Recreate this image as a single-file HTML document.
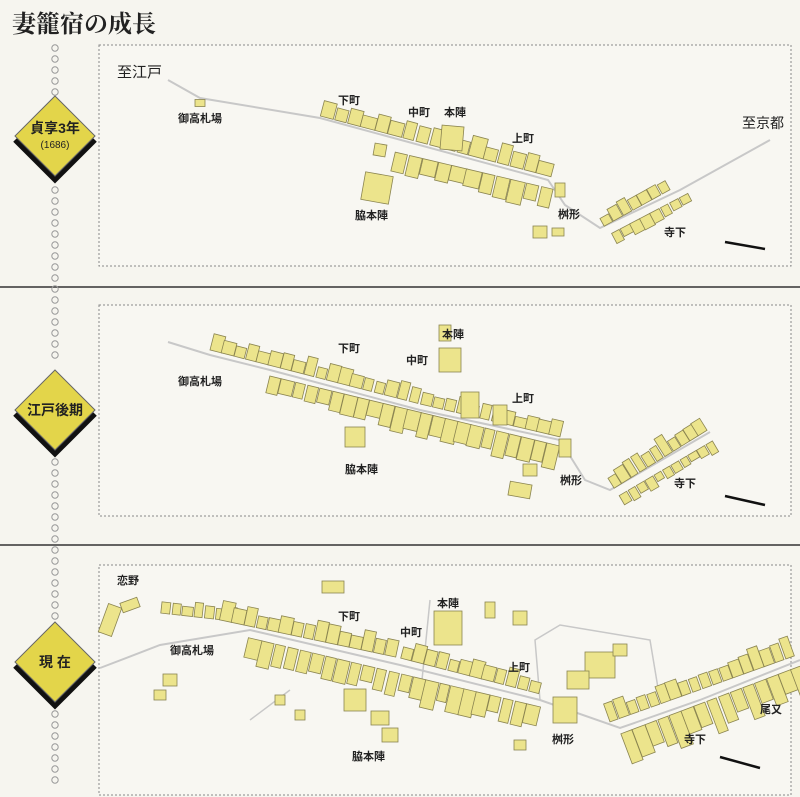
<!DOCTYPE html>
<html><head><meta charset="utf-8"><style>
html,body{margin:0;padding:0;background:#f6f5ef;}
body{width:800px;height:797px;overflow:hidden;position:relative;font-family:"Liberation Sans","Noto Sans CJK JP",sans-serif;}
svg{position:absolute;left:0;top:0}
</style></head><body>
<svg id="s" width="800" height="797" viewBox="0 0 800 797" font-family="'Liberation Sans','Noto Sans CJK JP',sans-serif">
<rect width="800" height="797" fill="#f6f5ef"/>
<text x="12" y="32" font-family="'Noto Serif CJK SC','Noto Sans CJK JP',serif" font-size="24" font-weight="bold" fill="#222">妻籠宿の成長</text>
<rect x="99" y="45" width="692" height="221" fill="#f8f7f2" stroke="#888" stroke-dasharray="2,2"/>
<rect x="99" y="305" width="692" height="211" fill="#f8f7f2" stroke="#888" stroke-dasharray="2,2"/>
<rect x="99" y="565" width="692" height="230" fill="#f8f7f2" stroke="#888" stroke-dasharray="2,2"/>
<line x1="0" y1="287" x2="800" y2="287" stroke="#333" stroke-width="1.5"/>
<line x1="0" y1="545" x2="800" y2="545" stroke="#333" stroke-width="1.5"/>
<g id="dots" fill="none" stroke="#999" stroke-width="1"></g>
<g>
<polyline points="15,140 55,180 95,140" fill="none" stroke="#111" stroke-width="5"/>
<polygon points="55,96 95,136 55,176 15,136" fill="#e3d54a" stroke="#666"/>
<text x="55" y="133" font-size="14" font-weight="bold" text-anchor="middle" fill="#222">貞享3年</text>
<text x="55" y="148" font-size="10" text-anchor="middle" fill="#222">(1686)</text>
</g>
<g>
<polyline points="15,414 55,454 95,414" fill="none" stroke="#111" stroke-width="5"/>
<polygon points="55,370 95,410 55,450 15,410" fill="#e3d54a" stroke="#666"/>
<text x="55" y="415" font-size="14" font-weight="bold" text-anchor="middle" fill="#222">江戸後期</text>
</g>
<g>
<polyline points="15,666 55,706 95,666" fill="none" stroke="#111" stroke-width="5"/>
<polygon points="55,622 95,662 55,702 15,662" fill="#e3d54a" stroke="#666"/>
<text x="55" y="667" font-size="14" font-weight="bold" text-anchor="middle" fill="#222">現 在</text>
</g>
<g id="roads" fill="none" stroke="#c8c8c8" stroke-width="2"></g>
<g id="bld" fill="#ece48c" stroke="#8a8450" stroke-width="0.8"></g>
<g font-size="11" font-weight="bold" fill="#222">
<text x="117" y="77" font-size="15" font-weight="normal">至江戸</text>
<text x="178" y="122">御高札場</text>
<text x="338" y="104">下町</text>
<text x="408" y="116">中町</text>
<text x="444" y="116">本陣</text>
<text x="512" y="142">上町</text>
<text x="742" y="128" font-size="14" font-weight="normal">至京都</text>
<text x="355" y="219">脇本陣</text>
<text x="558" y="218">桝形</text>
<text x="664" y="236">寺下</text>
<text x="178" y="385">御高札場</text>
<text x="338" y="352">下町</text>
<text x="406" y="364">中町</text>
<text x="442" y="338">本陣</text>
<text x="512" y="402">上町</text>
<text x="345" y="473">脇本陣</text>
<text x="560" y="484">桝形</text>
<text x="674" y="487">寺下</text>
<text x="117" y="584">恋野</text>
<text x="170" y="654">御高札場</text>
<text x="338" y="620">下町</text>
<text x="400" y="636">中町</text>
<text x="437" y="607">本陣</text>
<text x="508" y="671">上町</text>
<text x="352" y="760">脇本陣</text>
<text x="552" y="743">桝形</text>
<text x="684" y="743">寺下</text>
<text x="760" y="713">尾又</text>
</g>
<g stroke="#111" stroke-width="2.5">
<line x1="725" y1="242" x2="765" y2="249"/>
<line x1="725" y1="496" x2="765" y2="505"/>
<line x1="720" y1="757" x2="760" y2="768"/>
</g>
</svg>
<script>
var NS="http://www.w3.org/2000/svg";
var seed=7;function rnd(){seed=(seed*9301+49297)%233280;return seed/233280;}
var dots=document.getElementById('dots');
function dcol(y0,y1){for(var y=y0;y<=y1;y+=11){var c=document.createElementNS(NS,'circle');c.setAttribute('cx',55);c.setAttribute('cy',y);c.setAttribute('r',3.2);dots.appendChild(c);}}
dcol(48,92);dcol(190,365);dcol(462,618);dcol(714,790);
var roads=document.getElementById('roads');
function road(p,w){var l=document.createElementNS(NS,'polyline');l.setAttribute('points',p);if(w)l.setAttribute('stroke-width',w);roads.appendChild(l);}
road("168,80 200,98 320,118 548,180 565,205 600,228 680,190 770,140");
road("168,342 210,355 270,370 420,410 560,440 585,480 610,490 710,432");
road("100,668 160,645 250,630 400,665 540,700 620,728 700,700 800,660");
road("430,600 420,700",1.5);road("540,700 535,640 560,625 650,640 660,700",1.5);road("250,720 290,690",1.5);
var bld=document.getElementById('bld');
function rect(x,y,w,h,a){var r=document.createElementNS(NS,'rect');r.setAttribute('x',-w/2);r.setAttribute('y',-h/2);r.setAttribute('width',w);r.setAttribute('height',h);r.setAttribute('transform','translate('+x+','+y+') rotate('+a+')');bld.appendChild(r);}
function row(x0,y0,x1,y1,side,dep,wid){var dx=x1-x0,dy=y1-y0,L=Math.hypot(dx,dy),ux=dx/L,uy=dy/L,nx=-uy*side,ny=ux*side,a=Math.atan2(dy,dx)*180/Math.PI;
for(var t=wid/2;t<L;t+=wid+1){var d=dep*(0.7+0.6*rnd());var w=wid*(0.8+0.4*rnd());rect(x0+ux*t+nx*(d/2+2),y0+uy*t+ny*(d/2+2),w,d,a);}}
row(320,118,548,178,-1,16,13);row(395,150,548,186,1,20,14);row(605,228,670,192,-1,12,10);row(610,232,690,190,1,10,10);
rect(200,103,10,7,0);rect(377,188,28,28,10);rect(452,138,22,24,5);rect(380,150,12,12,10);rect(540,232,14,12,0);rect(558,232,12,8,0);rect(560,190,10,14,0);
row(210,352,420,406,-1,15,11);row(420,406,556,438,-1,14,11);row(270,374,560,444,1,20,12);row(615,490,708,432,-1,16,9);row(618,494,710,440,1,10,9);
rect(450,360,22,24,0);rect(445,333,12,16,0);rect(355,437,20,20,0);rect(470,405,18,26,0);rect(520,490,22,14,10);rect(530,470,14,12,0);rect(565,448,12,18,0);rect(500,415,14,20,0);
row(160,615,250,625,-1,12,10);row(220,622,400,660,-1,16,11);row(400,660,540,696,-1,15,11);row(250,636,545,706,1,22,12);row(610,724,800,656,-1,18,10);row(620,732,800,664,1,30,12);
rect(448,628,28,34,0);rect(110,620,14,30,20);rect(130,605,18,10,-20);rect(170,680,14,12,0);rect(160,695,12,10,0);rect(355,700,22,22,0);rect(380,718,18,14,0);rect(390,735,16,14,0);
rect(600,665,30,26,0);rect(578,680,22,18,0);rect(620,650,14,12,0);rect(565,710,24,26,0);rect(520,745,12,10,0);rect(280,700,10,10,0);rect(300,715,10,10,0);rect(333,587,22,12,0);rect(520,618,14,14,0);rect(490,610,10,16,0);
</script>
</body></html>
